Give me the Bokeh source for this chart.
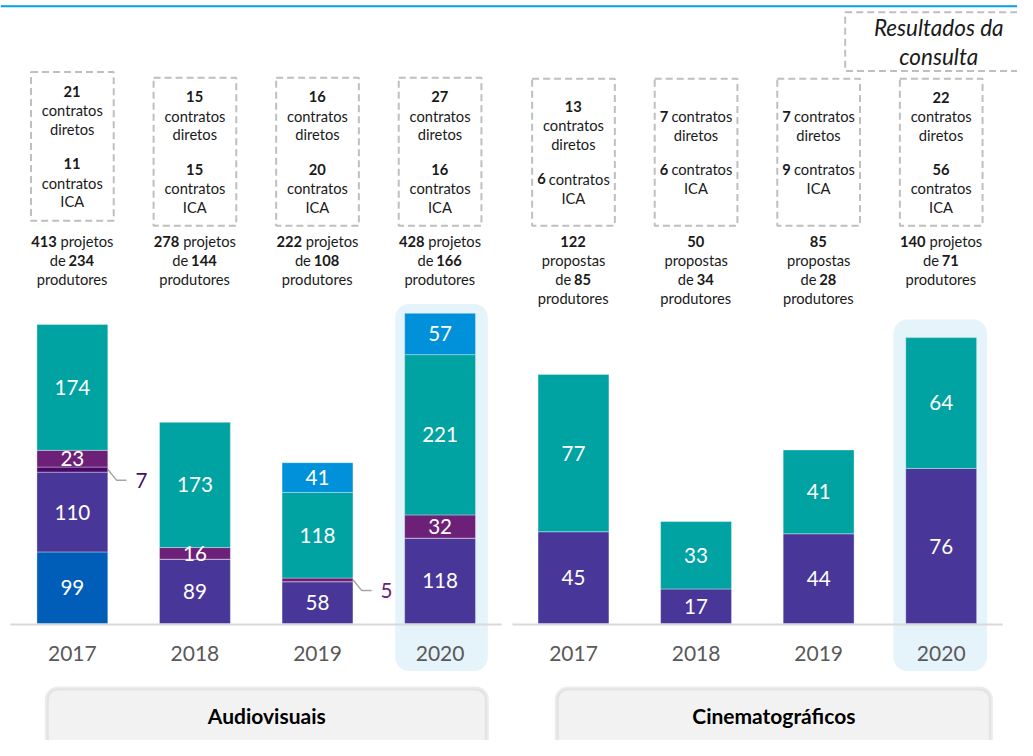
import numpy as np
from bokeh.plotting import figure
from bokeh.models import Range1d, ColumnDataSource, BoxAnnotation
from bokeh.core.properties import value
from bokeh.embed import file_html
from bokeh.resources import INLINE

# ---------------- data ----------------
years = ["2017", "2018", "2019", "2020"]

# Audiovisuais – stacked values (bottom -> top)
av_blue = [99, 0, 0, 0]
av_violet = [110, 89, 58, 118]
av_purple = [7, 0, 0, 0]
av_magenta = [23, 16, 5, 32]
av_green = [174, 173, 118, 221]
av_lightblue = [0, 0, 41, 57]

# Cinematográficos – stacked values (bottom -> top)
cine_violet = [45, 17, 44, 76]
cine_green = [77, 33, 41, 64]

# annotation numbers
av_diretos = [21, 15, 16, 27]
av_ica = [11, 15, 20, 16]
av_projetos = [413, 278, 222, 428]
av_produtores = [234, 144, 108, 166]
av_unit = ["projetos", "projetos", "projetos", "projetos"]

cine_diretos = [13, 7, 7, 22]
cine_ica = [6, 6, 9, 56]
cine_projetos = [122, 50, 85, 140]
cine_produtores = [85, 34, 28, 71]
cine_unit = ["propostas", "propostas", "propostas", "projetos"]

group_names = ["Audiovisuais", "Cinematográficos"]
highlight_note = ["Resultados da", "consulta"]

# ---------------- style / layout ----------------
FONT = "Lato"
C_BLUE, C_VIOLET, C_PURPLE = "#005EB8", "#483698", "#470A68"
C_MAGENTA, C_GREEN, C_LIGHT = "#6D2077", "#00A3A1", "#0091DA"
TXT = "#1A1A1A"

W, H = 1017, 740
RW, RH = 1033, 756               # layout designed on a 1033x756 grid, scaled to the canvas
FS = H / RH                      # font scale


def fs(sz):
    return f"{sz * FS:.1f}px"


BASE = 636.7                      # layout-y of the bars' baseline
AV_SCALE, CINE_SCALE = 0.741, 2.088   # layout px per unit
av_x = [73 + 124.5 * i for i in range(4)]
cine_x = [582 + 124.5 * i for i in range(4)]
BAR_W = 72

p = figure(width=W, height=H, output_backend="svg", toolbar_location=None,
           x_range=Range1d(0, RW),
           y_range=Range1d((BASE - RH) / AV_SCALE, BASE / AV_SCALE),
           x_axis_location=None, y_axis_location=None, min_border=0)
p.extra_y_ranges = {
    "cine": Range1d((BASE - RH) / CINE_SCALE, BASE / CINE_SCALE),
    "px": Range1d(RH, 0),
}
p.grid.visible = False
p.outline_line_color = None
p.background_fill_color = "white"
p.border_fill_color = "white"

# highlight boxes behind 2020 bars
for l, r, t in [(401, 495, 310), (907, 1002, 326)]:
    p.add_layout(BoxAnnotation(left=l, right=r, top=t, bottom=685, y_range_name="px",
                               fill_color="#E5F3FB", fill_alpha=1, line_alpha=0,
                               border_radius=14, level="underlay"))

# bottom category boxes
for l, r in [(47, 494), (565, 1006)]:
    p.add_layout(BoxAnnotation(left=l, right=r, top=703, bottom=790, y_range_name="px",
                               fill_color="#F2F2F2", fill_alpha=1, line_color="#BFBFBF",
                               line_width=4, border_radius=11, level="underlay"))

# ---------------- bars ----------------
av_keys = ["blue", "violet", "purple", "magenta", "green", "lightblue"]
av_cols = [C_BLUE, C_VIOLET, C_PURPLE, C_MAGENTA, C_GREEN, C_LIGHT]
av_vals = [av_blue, av_violet, av_purple, av_magenta, av_green, av_lightblue]
av_src = ColumnDataSource(dict(x=av_x, **{k: v for k, v in zip(av_keys, av_vals)}))
p.vbar_stack(av_keys, x="x", width=BAR_W, color=av_cols, source=av_src,
             line_color="white", line_alpha=0.35, line_width=1)

cine_keys = ["violet", "green"]
cine_cols = [C_VIOLET, C_GREEN]
cine_vals = [cine_violet, cine_green]
cine_src = ColumnDataSource(dict(x=cine_x, **{k: v for k, v in zip(cine_keys, cine_vals)}))
p.vbar_stack(cine_keys, x="x", width=BAR_W, color=cine_cols, source=cine_src,
             line_color="white", line_alpha=0.35, line_width=1, y_range_name="cine")


def seg_labels(xs, vals, cols, rng, scale):
    arr = np.array(vals, dtype=float)
    tops = np.cumsum(arr, axis=0)
    mids = tops - arr / 2
    lx, ly, lt = [], [], []
    for s in range(arr.shape[0]):
        for i in range(arr.shape[1]):
            v = arr[s, i]
            if v >= 10:
                lx.append(xs[i]); ly.append(mids[s, i]); lt.append(str(int(v)))
            elif v > 0:
                xr = xs[i] + BAR_W / 2
                d = 11 / scale
                p.line([xr, xr + 9, xr + 19], [mids[s, i], mids[s, i] - d, mids[s, i] - d],
                       line_color="#A6A6A6", line_width=1.5, y_range_name=rng)
                p.text([xr + 28], [mids[s, i] - d], text=[str(int(v))],
                       text_font=value(FONT), text_font_size=fs(21), text_color=cols[s],
                       text_align="left", text_baseline="middle", y_range_name=rng)
    p.text(lx, ly, text=lt, text_font=value(FONT), text_font_size=fs(21),
           text_color="white", text_align="center", text_baseline="middle",
           y_range_name=rng)


seg_labels(av_x, av_vals, av_cols, "default", AV_SCALE)
seg_labels(cine_x, cine_vals, cine_cols, "cine", CINE_SCALE)

# baselines
p.segment(x0=[10, 520], x1=[509, 1018], y0=[637.5, 637.5], y1=[637.5, 637.5],
          line_color="#D9D9D9", line_width=2, y_range_name="px")
# top decorative rule
p.segment(x0=[0], x1=[RW], y0=[6], y1=[6], line_color="#00A0E6", line_width=2,
          y_range_name="px")

# year labels
p.text(av_x + cine_x, [667] * 8, text=years + years, text_font=value(FONT),
       text_font_size=fs(21.5), text_color="#595959", text_align="center",
       text_baseline="middle", y_range_name="px")

# ---------------- text boxes ----------------
CW = {" ": .193, "a": .483, "c": .459, "d": .556, "e": .524, "i": .234, "j": .233,
      "n": .556, "o": .563, "p": .55, "r": .372, "s": .423, "t": .356, "u": .556,
      "l": .234, "I": .274, "C": .684, "A": .678}


def tw(s, size, bold=False):
    w = sum(0.58 if ch.isdigit() else CW.get(ch, .55) for ch in s) * size
    return w * (1.03 if bold else 1.0)


SZ = 15
LH = 19.3
bold_pts = dict(x=[], y=[], t=[])
reg_pts = dict(x=[], y=[], t=[])


def put_line(cx, y, segs):
    total = sum(tw(t, SZ, b) for t, b in segs)
    x = cx - total / 2
    for t, b in segs:
        lead = len(t) - len(t.lstrip(" "))
        xs = x + lead * CW[" "] * SZ
        d = bold_pts if b else reg_pts
        d["x"].append(xs); d["y"].append(y); d["t"].append(t.strip(" "))
        x += tw(t, SZ, b)


def contract_lines(n, kind):
    if n < 10:
        return [[(str(n), True), (" contratos", False)], [(kind, False)]]
    return [[(str(n), True)], [("contratos", False)], [(kind, False)]]


def draw_box(cx, top, bottom, dire, ica):
    p.quad(left=[cx - 42], right=[cx + 42], top=[top], bottom=[bottom],
           fill_alpha=0, line_color="#BFBFBF", line_width=2, line_dash="7 4",
           y_range_name="px")
    g1 = contract_lines(dire, "diretos")
    g2 = contract_lines(ica, "ICA")
    n = len(g1) + len(g2)
    gap = 16
    total = (n - 1) * LH + gap
    y = (top + bottom) / 2 - total / 2
    for segs in g1:
        put_line(cx, y, segs); y += LH
    y += gap
    for segs in g2:
        put_line(cx, y, segs); y += LH


def draw_summary(cx, n_proj, n_prod, unit):
    y = 246
    if unit == "propostas":
        lines = [[(str(n_proj), True)], [("propostas", False)]]
    else:
        lines = [[(str(n_proj), True), (" " + unit, False)]]
    lines += [[("de ", False), (str(n_prod), True)], [("produtores", False)]]
    for segs in lines:
        put_line(cx, y, segs); y += LH


av_box_top = [73, 79, 79, 79]
av_box_bot = [225, 230, 230, 230]
for i in range(4):
    draw_box(av_x[i], av_box_top[i], av_box_bot[i], av_diretos[i], av_ica[i])
    draw_summary(av_x[i], av_projetos[i], av_produtores[i], av_unit[i])
    draw_box(cine_x[i], 80, 230, cine_diretos[i], cine_ica[i])
    draw_summary(cine_x[i], cine_projetos[i], cine_produtores[i], cine_unit[i])

for d, style in [(bold_pts, "bold"), (reg_pts, "normal")]:
    p.text("x", "y", text="t", source=ColumnDataSource(d), text_font=value(FONT),
           text_font_size=fs(SZ), text_font_style=style, text_color=TXT,
           text_align="left", text_baseline="middle", y_range_name="px")

# "Resultados da consulta" box
p.quad(left=[858], right=[1050], top=[12], bottom=[72], fill_alpha=0,
       line_color="#BFBFBF", line_width=2, line_dash="7 4", y_range_name="px")
p.text([953, 953], [28, 57], text=highlight_note, text_font=value(FONT),
       text_font_size=fs(23), text_font_style="italic", text_color=TXT,
       text_align="center", text_baseline="middle", y_range_name="px")

# group labels
p.text([270.5, 785.5], [730, 730], text=group_names, text_font=value(FONT),
       text_font_size=fs(21.5), text_font_style="bold", text_color="black",
       text_align="center", text_baseline="middle", y_range_name="px")

open("out.html", "w").write(file_html(p, INLINE))
